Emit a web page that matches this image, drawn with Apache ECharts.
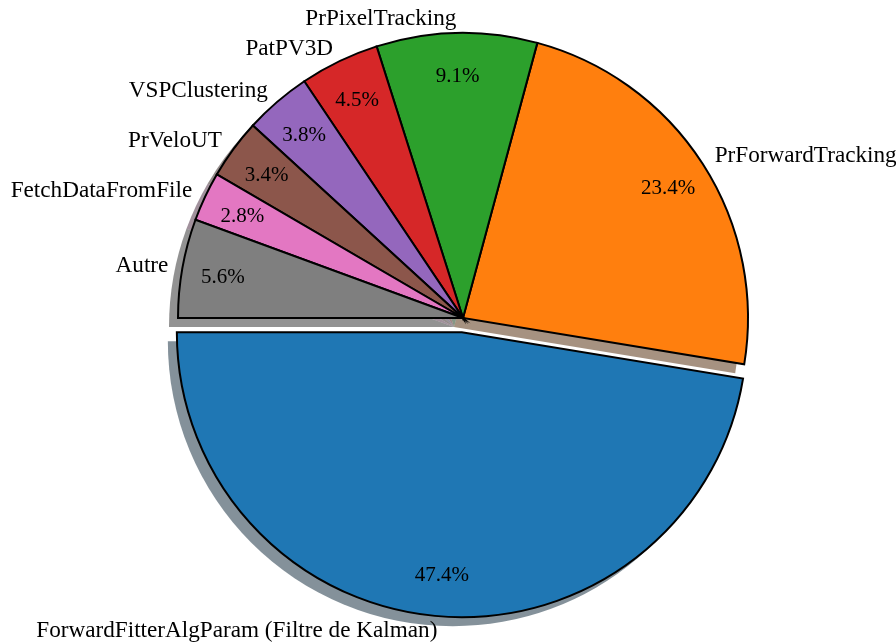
<!DOCTYPE html>
<html>
<head>
<meta charset="utf-8">
<script src="https://cdn.jsdelivr.net/npm/echarts@6/dist/echarts.min.js"></script>
<style>
  html, body { margin: 0; padding: 0; background: #ffffff; }
  #chart { width: 896px; height: 644px; }
</style>
</head>
<body>
<div id="chart"></div>
<script>
// Share of processing time per algorithm (%)
const categories = [
  'ForwardFitterAlgParam (Filtre de Kalman)',
  'PrForwardTracking',
  'PrPixelTracking',
  'PatPV3D',
  'VSPClustering',
  'PrVeloUT',
  'FetchDataFromFile',
  'Autre'
];
const shares = [47.4, 23.4, 9.1, 4.5, 3.8, 3.4, 2.8, 5.6];
const exploded = [true, false, false, false, false, false, false, false];

const palette = ['#1f77b4', '#ff7f0e', '#2ca02c', '#d62728', '#9467bd', '#8c564b', '#e377c2', '#7f7f7f'];

const CX = 463, CY = 318, R = 285;
const EXPLODE = 0.05 * R;
const SHADOW_DX = -9, SHADOW_DY = 9;
const FONT = '"Liberation Serif", "Times New Roman", serif';

// darker, half-transparent copy of a colour for the drop shadow
function shade(hex) {
  const n = parseInt(hex.slice(1), 16);
  const r = Math.round(((n >> 16) & 255) * 0.3);
  const g = Math.round(((n >> 8) & 255) * 0.3);
  const b = Math.round((n & 255) * 0.3);
  return 'rgba(' + r + ',' + g + ',' + b + ',0.5)';
}

function items(colorFn) {
  return categories.map((name, i) => ({
    name: name,
    value: shares[i],
    selected: exploded[i],
    itemStyle: { color: colorFn(i) }
  }));
}

const common = {
  type: 'pie',
  radius: R,
  startAngle: 180,
  clockwise: false,
  selectedMode: 'multiple',
  selectedOffset: EXPLODE,
  avoidLabelOverlap: false,
  animation: false,
  silent: true,
  emphasis: { disabled: true },
  labelLine: { show: false }
};

const chart = echarts.init(document.getElementById('chart'), null, { renderer: 'canvas' });

chart.setOption({
  backgroundColor: '#ffffff',
  animation: false,
  series: [
    // drop shadow
    Object.assign({}, common, {
      center: [CX + SHADOW_DX, CY + SHADOW_DY],
      z: 1,
      label: { show: false },
      itemStyle: { borderWidth: 0 },
      data: items(i => shade(palette[i]))
    }),
    // wedges with category names outside
    Object.assign({}, common, {
      center: [CX, CY],
      z: 2,
      itemStyle: { borderColor: '#000000', borderWidth: 2, borderJoin: 'miter', borderMiterLimit: 10 },
      label: {
        show: true,
        position: 'outside',
        formatter: '{b}',
        color: '#000000',
        fontFamily: FONT,
        fontSize: 23.2,
        distanceToLabelLine: 0,
        overflow: 'none',
        bleedMargin: 0
      },
      labelLine: { show: false, length: 0.05 * R, length2: 0 },
      data: items(i => palette[i])
    }),
    // percentage labels at about 0.85 R
    Object.assign({}, common, {
      center: [CX, CY],
      radius: [0.69 * R, R],
      z: 3,
      itemStyle: { color: 'rgba(0,0,0,0)', borderWidth: 0 },
      label: {
        show: true,
        position: 'inside',
        formatter: p => p.value.toFixed(1) + '%',
        color: '#000000',
        fontFamily: FONT,
        fontSize: 21,
        offset: [0, 2]
      },
      data: items(() => 'rgba(0,0,0,0)')
    })
  ]
});
</script>
</body>
</html>
